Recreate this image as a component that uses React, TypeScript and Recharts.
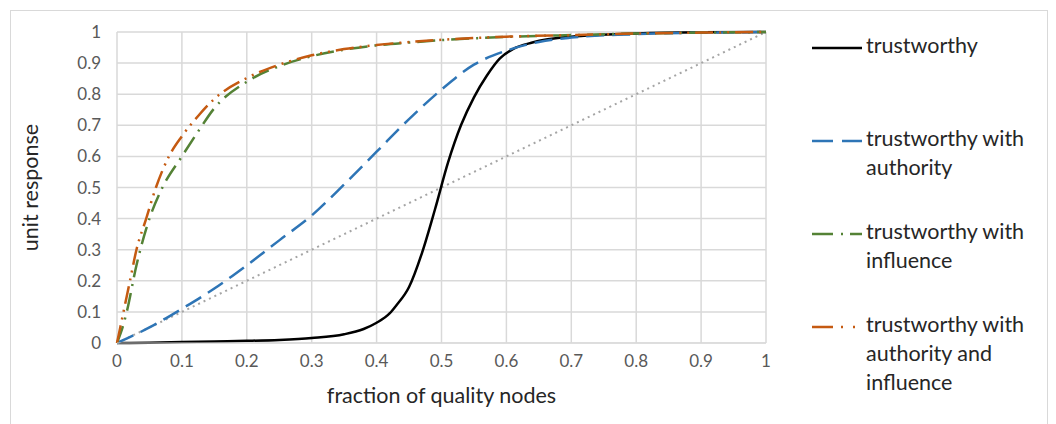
import { LineChart, Line, XAxis, YAxis, CartesianGrid } from "recharts";

const ticks = [0, 0.1, 0.2, 0.3, 0.4, 0.5, 0.6, 0.7, 0.8, 0.9, 1];

const trustworthy = [
  [0, 0], [0.05, 0.001], [0.1, 0.003], [0.15, 0.005], [0.2, 0.007], [0.25, 0.01],
  [0.3, 0.016], [0.35, 0.028], [0.38, 0.045], [0.4, 0.065], [0.42, 0.095], [0.43, 0.12],
  [0.45, 0.18], [0.47, 0.29], [0.49, 0.43], [0.51, 0.58], [0.53, 0.7], [0.55, 0.79],
  [0.57, 0.86], [0.59, 0.915], [0.61, 0.945], [0.64, 0.966], [0.7, 0.985], [0.8, 0.995],
  [0.9, 0.999], [1, 1],
];

const withAuthority = [
  [0, 0], [0.05, 0.05], [0.1, 0.11], [0.15, 0.175], [0.2, 0.25], [0.25, 0.33],
  [0.3, 0.41], [0.35, 0.51], [0.4, 0.615], [0.45, 0.72], [0.5, 0.815], [0.55, 0.895],
  [0.6, 0.94], [0.65, 0.968], [0.7, 0.982], [0.8, 0.993], [0.9, 0.998], [1, 1],
];

const withInfluence = [
  [0, 0], [0.01, 0.06], [0.015, 0.1], [0.03, 0.25], [0.05, 0.4], [0.07, 0.5],
  [0.1, 0.6], [0.125, 0.68], [0.15, 0.755], [0.2, 0.84], [0.25, 0.89], [0.3, 0.922],
  [0.35, 0.943], [0.4, 0.957], [0.45, 0.966], [0.5, 0.974], [0.6, 0.984], [0.7, 0.99],
  [0.8, 0.995], [0.9, 0.998], [1, 1],
];

const withBoth = [
  [0, 0], [0.01, 0.1], [0.02, 0.2], [0.03, 0.3], [0.045, 0.4], [0.06, 0.5],
  [0.08, 0.6], [0.1, 0.665], [0.125, 0.73], [0.15, 0.785], [0.2, 0.852], [0.25, 0.895],
  [0.3, 0.925], [0.35, 0.945], [0.4, 0.958], [0.5, 0.975], [0.6, 0.985], [0.7, 0.99],
  [0.8, 0.995], [0.9, 0.998], [1, 1],
];

const diagonal = [[0, 0], [1, 1]];

const toRows = (pts: number[][]) => pts.map(([x, y]) => ({ x, y }));

const series = [
  { name: "trustworthy", lines: ["trustworthy"], data: trustworthy, color: "#000000", dash: undefined as string | undefined, legendDash: undefined as string | undefined },
  { name: "trustworthy with authority", lines: ["trustworthy with", "authority"], data: withAuthority, color: "#2e75b6", dash: "18 8", legendDash: "21 9 20" },
  { name: "trustworthy with influence", lines: ["trustworthy with", "influence"], data: withInfluence, color: "#548235", dash: "18 7 2 7", legendDash: "21 8 2 7 12" },
  { name: "trustworthy with authority and influence", lines: ["trustworthy with", "authority and", "influence"], data: withBoth, color: "#c55a11", dash: "18 6 2 6 2 6", legendDash: "21 8 2 10 2 20" },
];

const font = "Lato, 'Open Sans', sans-serif";

export default function App() {
  return (
    <div style={{ position: "absolute", left: 0, top: 0, width: 1056, height: 424, background: "#fff" }}>
      <div style={{ position: "absolute", left: 10, top: 10, width: 1036, height: 420, border: "1px solid #d9d9d9" }} />
      <div style={{ position: "absolute", left: 0, top: 0 }}>
        <LineChart width={1056} height={424} margin={{ top: 32, right: 290, bottom: 21, left: 0 }}>
          <CartesianGrid stroke="#d9d9d9" strokeWidth={1.5} />
          <XAxis
            type="number"
            dataKey="x"
            domain={[0, 1]}
            ticks={ticks}
            height={60}
            tickLine={false}
            axisLine={{ stroke: "#d9d9d9" }}
            tickMargin={6}
            tick={{ fill: "#595959", fontSize: 17, fontFamily: font }}
            label={{ value: "fraction of quality nodes", position: "insideBottom", offset: 0, fill: "#262626", fontSize: 21.5, fontFamily: font }}
          />
          <YAxis
            type="number"
            dataKey="y"
            domain={[0, 1]}
            ticks={ticks}
            width={117}
            tickLine={false}
            axisLine={false}
            tickMargin={10}
            tick={{ fill: "#595959", fontSize: 17, fontFamily: font }}
            label={{ value: "unit response", angle: -90, position: "insideLeft", offset: 30, fill: "#262626", fontSize: 21.5, fontFamily: font, style: { textAnchor: "middle" } }}
          />
          <Line data={toRows(diagonal)} dataKey="y" type="linear" stroke="#a5a5a5" strokeWidth={2} strokeDasharray="2 4" dot={false} isAnimationActive={false} legendType="none" />
          {series.map((s) => (
            <Line
              key={s.name}
              name={s.name}
              data={toRows(s.data)}
              dataKey="y"
              type="monotone"
              stroke={s.color}
              strokeWidth={2.5}
              strokeDasharray={s.dash}
              dot={false}
              isAnimationActive={false}
            />
          ))}
        </LineChart>
      </div>
      <div style={{ position: "absolute", left: 810, top: 31, width: 240, fontFamily: font, fontSize: 21.5, color: "#262626", lineHeight: "29px" }}>
        {series.map((s) => (
          <div key={s.name} style={{ display: "flex", alignItems: "flex-start", height: 93 }}>
            <svg width={56} height={29} style={{ flex: "none" }}>
              <line x1={2} y1={17} x2={52} y2={17} stroke={s.color} strokeWidth={2.5} strokeDasharray={s.legendDash} />
            </svg>
            <div>
              {s.lines.map((l) => (
                <div key={l}>{l}</div>
              ))}
            </div>
          </div>
        ))}
      </div>
    </div>
  );
}
